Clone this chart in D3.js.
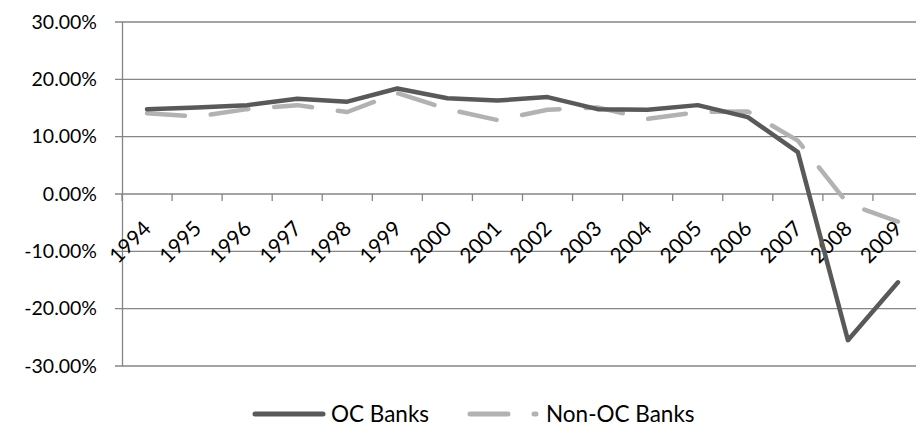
<!DOCTYPE html>
<html>
<head>
<meta charset="utf-8">
<script src="https://cdn.jsdelivr.net/npm/d3@7"></script>
<style>
  body { margin: 0; background: #fff; }
  svg { display: block; }
  text { font-family: Lato, "Open Sans", sans-serif; fill: #000; }
</style>
</head>
<body>
<svg id="chart"></svg>
<script>
const years = ['1994','1995','1996','1997','1998','1999','2000','2001','2002','2003','2004','2005','2006','2007','2008','2009'];
const ocBanks = [14.8, 15.1, 15.5, 16.6, 16.1, 18.4, 16.7, 16.3, 16.9, 14.8, 14.7, 15.5, 13.4, 7.3, -25.5, -15.4];
const nonOcBanks = [14.1, 13.5, 14.8, 15.5, 14.3, 17.6, 14.8, 12.9, 14.7, 15.1, 13.1, 14.3, 14.4, 9.3, -1.7, -4.8];
const yTicks = [30, 20, 10, 0, -10, -20, -30];
const seriesNames = ['OC Banks', 'Non-OC Banks'];

const width = 916, height = 428;
const svg = d3.select('#chart').attr('width', width).attr('height', height);

const x = d3.scaleBand().domain(years).range([122, 923]);
const y = d3.scaleLinear().domain([-30, 30]).range([366, 22]);

const gridColor = '#868686';

// gridlines
svg.append('g').selectAll('line')
    .data(yTicks)
    .join('line')
    .attr('x1', 115).attr('x2', width)
    .attr('y1', d => y(d)).attr('y2', d => y(d))
    .attr('stroke', gridColor).attr('stroke-width', 1.3);

// y axis line
svg.append('line')
    .attr('x1', 122.5).attr('x2', 122.5)
    .attr('y1', y(30)).attr('y2', y(-30))
    .attr('stroke', gridColor).attr('stroke-width', 1.3);

// y labels
svg.append('g').selectAll('text')
    .data(yTicks)
    .join('text')
    .attr('x', 97)
    .attr('y', d => y(d))
    .attr('text-anchor', 'end')
    .attr('dy', '0.35em')
    .style('font-size', '19.5px')
    .text(d => d.toFixed(2) + '%');

// category ticks on the zero line
const boundaries = years.map(d => x(d)).concat([x(years[years.length - 1]) + x.bandwidth()]);
svg.append('g').selectAll('line')
    .data(boundaries)
    .join('line')
    .attr('x1', d => d).attr('x2', d => d)
    .attr('y1', y(0)).attr('y2', y(0) + 7)
    .attr('stroke', gridColor).attr('stroke-width', 1.3);

// year labels, rotated
svg.append('g').selectAll('text')
    .data(years)
    .join('text')
    .attr('transform', d => `translate(${x(d) + x.bandwidth() / 2 - 17}, 242) rotate(-45)`)
    .attr('text-anchor', 'middle')
    .attr('dy', '0.35em')
    .style('font-size', '21px')
    .text(d => d);

const line = d3.line()
    .x((d, i) => x(years[i]) + x.bandwidth() / 2)
    .y(d => y(d));

svg.append('path')
    .datum(nonOcBanks)
    .attr('d', line)
    .attr('fill', 'none')
    .attr('stroke', '#b2b2b2')
    .attr('stroke-width', 4.5)
    .attr('stroke-linecap', 'round')
    .attr('stroke-linejoin', 'round')
    .attr('stroke-dasharray', '38,26');

svg.append('path')
    .datum(ocBanks)
    .attr('d', line)
    .attr('fill', 'none')
    .attr('stroke', '#595959')
    .attr('stroke-width', 4.5)
    .attr('stroke-linecap', 'round')
    .attr('stroke-linejoin', 'round');

// legend
const legendY = 414;
const legend = svg.append('g');
legend.append('line')
    .attr('x1', 255).attr('x2', 323)
    .attr('y1', legendY).attr('y2', legendY)
    .attr('stroke', '#595959').attr('stroke-width', 5)
    .attr('stroke-linecap', 'round');
legend.append('line')
    .attr('x1', 470).attr('x2', 536)
    .attr('y1', legendY).attr('y2', legendY)
    .attr('stroke', '#b2b2b2').attr('stroke-width', 5)
    .attr('stroke-linecap', 'round')
    .attr('stroke-dasharray', '38,26');
legend.selectAll('text.legend-label')
    .data(seriesNames)
    .join('text')
    .attr('class', 'legend-label')
    .attr('x', (d, i) => i === 0 ? 331 : 546)
    .attr('y', legendY)
    .attr('dy', '0.35em')
    .style('font-size', '22.5px')
    .text(d => d);
</script>
</body>
</html>
